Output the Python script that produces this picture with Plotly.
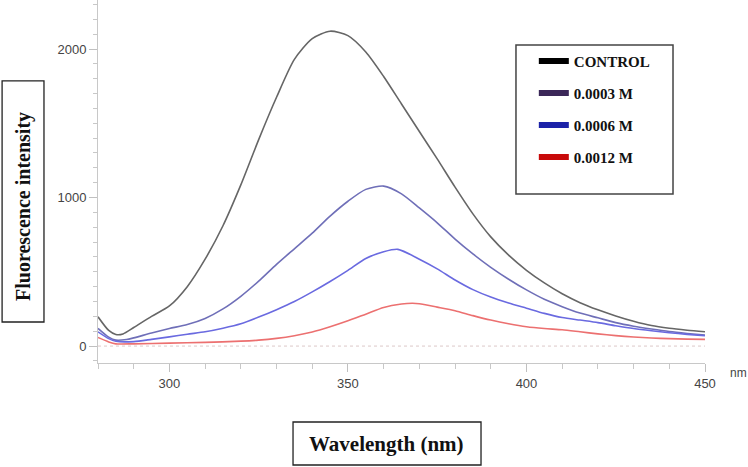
import plotly.graph_objects as go

# ---- data ----
wl_control = [280, 283, 285, 287, 290, 295, 300, 305, 310, 315, 320, 325, 330, 335, 340, 345, 350, 355,
              360, 365, 370, 375, 380, 385, 390, 395, 400, 405, 410, 415, 420, 425, 430, 435, 440, 445, 450]
control = [197, 105, 78, 82, 125, 200, 270, 400, 585, 810, 1085, 1390, 1675, 1930, 2070, 2120, 2090, 1980,
           1815, 1630, 1445, 1260, 1070, 890, 735, 612, 510, 425, 352, 292, 244, 203, 167, 138, 120, 107, 96]

wl_a = [280, 283, 285, 288, 290, 295, 300, 305, 310, 315, 320, 325, 330, 335, 340, 345, 350, 355, 360,
        365, 370, 375, 380, 385, 390, 395, 400, 405, 410, 415, 420, 425, 430, 435, 440, 445, 450]
c_0003 = [119, 60, 40, 44, 55, 88, 118, 145, 186, 250, 335, 437, 550, 655, 760, 875, 975, 1055, 1077,
          1025, 930, 830, 720, 620, 530, 450, 378, 315, 265, 222, 190, 158, 134, 115, 98, 85, 74]

wl_b = [280, 283, 285, 290, 295, 300, 305, 310, 315, 320, 325, 330, 335, 340, 345, 350, 355, 360, 364,
        370, 375, 380, 385, 390, 395, 400, 405, 410, 415, 420, 425, 430, 435, 440, 445, 450]
c_0006 = [96, 50, 32, 30, 45, 62, 80, 96, 120, 150, 195, 245, 300, 365, 435, 510, 590, 635, 651,
          585, 520, 445, 380, 330, 290, 255, 220, 192, 175, 158, 137, 118, 103, 90, 79, 69]

wl_c = [280, 283, 285, 290, 300, 310, 320, 325, 330, 335, 340, 345, 350, 355, 360, 365, 368, 370, 375,
        380, 385, 390, 395, 400, 405, 410, 415, 420, 425, 430, 435, 440, 445, 450]
c_0012 = [58, 28, 15, 15, 20, 25, 33, 40, 52, 70, 95, 130, 170, 215, 260, 283, 288, 285, 262,
          238, 205, 175, 150, 130, 118, 110, 96, 82, 70, 61, 54, 50, 47, 45]

legend_names = ["CONTROL", "0.0003 M", "0.0006 M", "0.0012 M"]
legend_colors = ["#000000", "#3b2758", "#1c22a8", "#c80a0a"]
curve_colors = ["#666666", "#6f6fb8", "#6a6ae0", "#ec7070"]

SERIF = "Liberation Serif, Times New Roman, serif"
SANS = "Liberation Sans, Arial, sans-serif"

fig = go.Figure()
series = [(wl_control, control), (wl_a, c_0003), (wl_b, c_0006), (wl_c, c_0012)]
for (x, y), col in zip(series, curve_colors):
    fig.add_trace(go.Scatter(x=x, y=y, mode="lines",
                             line=dict(color=col, width=1.6, shape="spline", smoothing=0.7),
                             showlegend=False, hoverinfo="skip"))

# legend entries
for i, (name, col) in enumerate(zip(legend_names, legend_colors)):
    fig.add_trace(go.Scatter(x=[None], y=[None], mode="lines", name=f"<b>{name}</b>", legendgroup=f"g{i}",
                             line=dict(color=col, width=6)))

fig.update_layout(
    width=748, height=467,
    margin=dict(l=98, r=43, t=0, b=104),
    paper_bgcolor="white", plot_bgcolor="white",
    showlegend=True,
    legend=dict(x=0.718, y=0.8765, xanchor="left", yanchor="top", bgcolor="rgba(0,0,0,0)",
                borderwidth=0, tracegroupgap=9.5, itemwidth=30,
                font=dict(family=SERIF, size=15, color="#111")),
    xaxis=dict(range=[280, 450], showgrid=False, zeroline=False, showline=True, linecolor="#c8c8c8",
               linewidth=1, ticks="outside", ticklen=8, tickcolor="#c0c0c0", dtick=50, tick0=300,
               tickfont=dict(family=SANS, size=13, color="#444"),
               minor=dict(dtick=10, tick0=280, ticks="outside", ticklen=5, tickcolor="#c8c8c8")),
    yaxis=dict(range=[-114, 2330], showgrid=False, zeroline=False, showline=True, linecolor="#c8c8c8",
               linewidth=1, ticks="outside", ticklen=8, tickcolor="#c0c0c0", dtick=1000, tick0=0,
               tickfont=dict(family=SANS, size=13, color="#444"),
               minor=dict(dtick=100, tick0=0, ticks="outside", ticklen=4, tickcolor="#c8c8c8")),
)

# zero reference dotted line
fig.add_shape(type="line", xref="paper", yref="y", x0=0, x1=1, y0=0, y1=0,
              line=dict(color="#dcc8c8", width=1, dash="dot"))

# legend box
fig.add_shape(type="rect", xref="paper", yref="paper", x0=0.6886, x1=0.9473, y0=0.4656, y1=0.876,
              line=dict(color="#444", width=1.5), fillcolor="rgba(0,0,0,0)")

# y title box
fig.add_shape(type="rect", xref="paper", yref="paper", x0=-0.158, x1=-0.089, y0=0.113, y1=0.777,
              line=dict(color="#222", width=1.3), fillcolor="white")
fig.add_annotation(xref="paper", yref="paper", x=-0.1236, y=0.4325, text="<b>Fluorescence intensity</b>",
                   textangle=-90, showarrow=False, xanchor="center", yanchor="middle",
                   font=dict(family=SERIF, size=20, color="#111", weight="bold"))

# x title box
fig.add_shape(type="rect", xref="paper", yref="paper", x0=0.3213, x1=0.631, y0=-0.281, y1=-0.1625,
              line=dict(color="#222", width=1.3), fillcolor="white")
fig.add_annotation(xref="paper", yref="paper", x=0.476, y=-0.2218, text="<b>Wavelength (nm)</b>",
                   showarrow=False, xanchor="center", yanchor="middle",
                   font=dict(family=SERIF, size=21, color="#111", weight="bold"))

# unit label
fig.add_annotation(xref="paper", yref="paper", x=1.056, y=-0.0275, text="nm", showarrow=False,
                   xanchor="center", yanchor="middle",
                   font=dict(family=SANS, size=12, color="#444"))

fig.write_html("out.html")
